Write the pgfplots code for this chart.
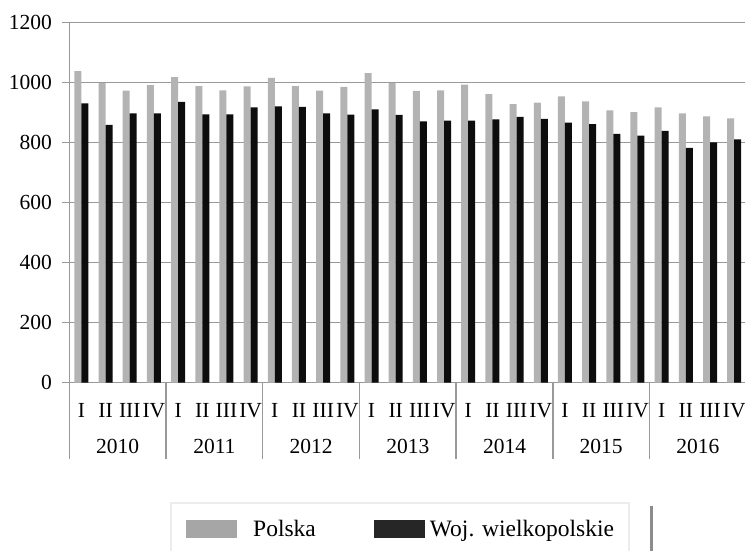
\documentclass[border=0pt]{standalone}
\usepackage{fontspec}
\setmainfont{Liberation Serif}
\usepackage{pgfplots}
\pgfplotsset{compat=1.18}
\usepackage{pgfplotstable}
\definecolor{polbar}{RGB}{179,179,179}
\definecolor{wojbar}{RGB}{13,13,13}
\definecolor{polleg}{RGB}{166,166,166}
\definecolor{wojleg}{RGB}{38,38,38}
\definecolor{gridc}{RGB}{153,153,153}
\definecolor{legborder}{RGB}{236,236,236}
\definecolor{legdark}{RGB}{140,140,140}

\pgfplotstableread{
x pol woj
0.5 1038 930
1.5 998 859
2.5 973 897
3.5 991 897
4.5 1018 935
5.5 988 894
6.5 974 894
7.5 987 917
8.5 1015 920
9.5 988 919
10.5 973 897
11.5 985 893
12.5 1031 910
13.5 998 892
14.5 972 870
15.5 974 873
16.5 993 873
17.5 961 877
18.5 928 885
19.5 933 879
20.5 954 866
21.5 937 861
22.5 907 829
23.5 901 823
24.5 917 839
25.5 897 782
26.5 887 800
27.5 880 810
}\datatable

\begin{document}
\begin{tikzpicture}
\begin{axis}[
  at={(0pt,0pt)}, anchor=south west,
  scale only axis, width=677pt, height=360pt,
  xmin=0, xmax=28, ymin=0, ymax=1200,
  enlargelimits=false,
  clip=false,
  ybar=0pt, bar width=7pt,
  axis x line*=bottom, axis y line*=left,
  axis line style={draw=gridc, line width=1.5pt},
  ymajorgrids, major grid style={draw=gridc, line width=1.5pt},
  ytick={0,200,...,1200},
  tick align=outside, major tick length=7pt,
  ytick style={draw=gridc, line width=1.5pt},
  xtick={0.5,1.5,...,27.5},
  xticklabels={I,II,III,IV,I,II,III,IV,I,II,III,IV,I,II,III,IV,I,II,III,IV,I,II,III,IV,I,II,III,IV},
  xtick style={draw=none},
  /pgf/number format/assume math mode=true,
  /pgf/number format/1000 sep={},
  tick label style={font=\fontsize{21.5}{25}\selectfont},
  xticklabel style={anchor=base, yshift=-27.5pt},
  yticklabel style={xshift=-7pt},
  legend style={at={(0.14875,-0.33194)}, anchor=north west,
    legend columns=2, draw=legborder, line width=2.5pt,
    inner xsep=15pt, inner ysep=15pt,
    font=\fontsize{23.5}{27}\selectfont,
    nodes={inner xsep=0pt, inner ysep=2pt},
    /tikz/column 1/.style={column sep=16pt},
    /tikz/column 2/.style={column sep=58pt},
    /tikz/column 3/.style={column sep=5pt}},
  legend cell align=left,
]
\addplot[fill=polbar, draw=none,
  legend image code/.code={\fill[polleg] (0pt,-9pt) rectangle (51pt,9pt);}]
  table[x=x, y=pol]{\datatable};
\addplot[fill=wojbar, draw=none,
  legend image code/.code={\fill[wojleg] (0pt,-9pt) rectangle (51pt,9pt);}]
  table[x=x, y=woj]{\datatable};
\legend{Polska, Woj. wielkopolskie\hspace{17pt}}
\node[anchor=base, font=\fontsize{21.5}{25}\selectfont] at (axis cs:2,0) [yshift=-70.5pt] {2010};
\node[anchor=base, font=\fontsize{21.5}{25}\selectfont] at (axis cs:6,0) [yshift=-70.5pt] {2011};
\node[anchor=base, font=\fontsize{21.5}{25}\selectfont] at (axis cs:10,0) [yshift=-70.5pt] {2012};
\node[anchor=base, font=\fontsize{21.5}{25}\selectfont] at (axis cs:14,0) [yshift=-70.5pt] {2013};
\node[anchor=base, font=\fontsize{21.5}{25}\selectfont] at (axis cs:18,0) [yshift=-70.5pt] {2014};
\node[anchor=base, font=\fontsize{21.5}{25}\selectfont] at (axis cs:22,0) [yshift=-70.5pt] {2015};
\node[anchor=base, font=\fontsize{21.5}{25}\selectfont] at (axis cs:26,0) [yshift=-70.5pt] {2016};
\draw[gridc, line width=1.5pt] (axis cs:0,0) -- ++(0pt,-76pt);
\draw[gridc, line width=1.5pt] (axis cs:4,0) -- ++(0pt,-76pt);
\draw[gridc, line width=1.5pt] (axis cs:8,0) -- ++(0pt,-76pt);
\draw[gridc, line width=1.5pt] (axis cs:12,0) -- ++(0pt,-76pt);
\draw[gridc, line width=1.5pt] (axis cs:16,0) -- ++(0pt,-76pt);
\draw[gridc, line width=1.5pt] (axis cs:20,0) -- ++(0pt,-76pt);
\draw[gridc, line width=1.5pt] (axis cs:24,0) -- ++(0pt,-76pt);
\draw[gridc, line width=1.5pt] (axis cs:28,0) -- ++(0pt,-76pt);
\end{axis}
\draw[legdark, line width=3pt] (582.2pt,-123.5pt) -- (582.2pt,-180pt);
\pgfresetboundingbox
\useasboundingbox (-69.3pt,-168.5pt) rectangle (675.7pt,382.5pt);
\end{tikzpicture}
\end{document}
